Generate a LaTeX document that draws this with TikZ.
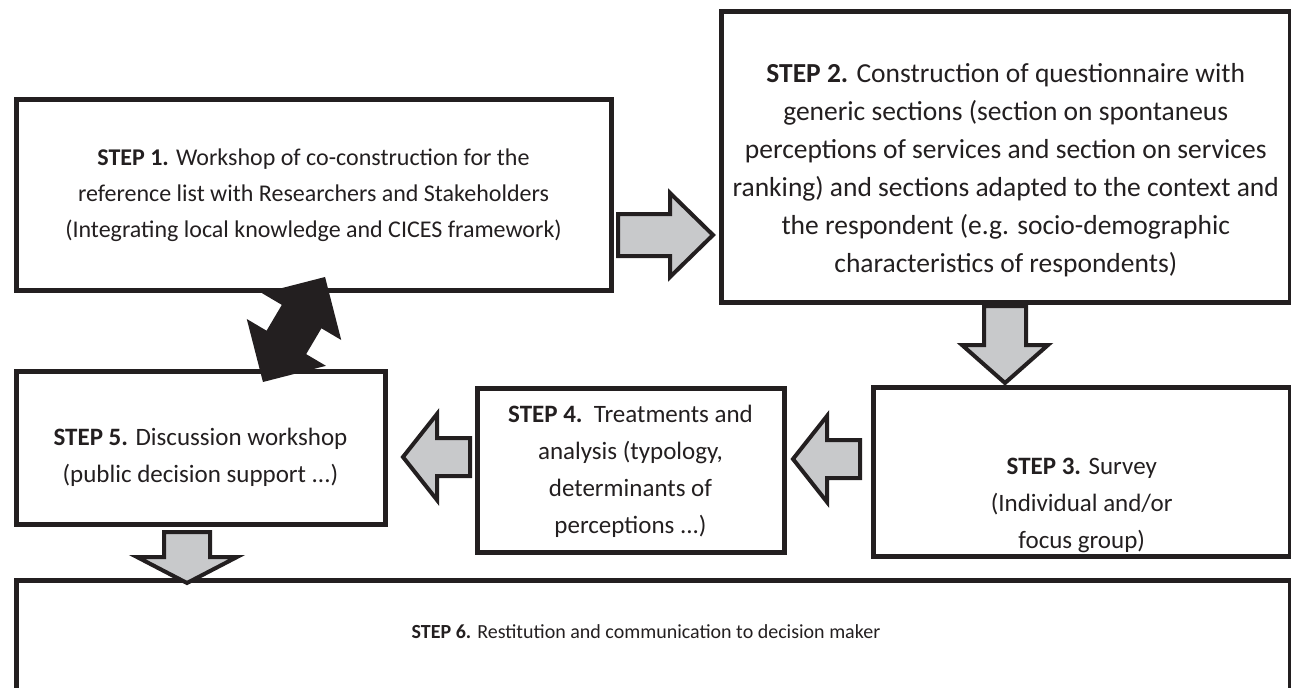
\documentclass[tikz,border=0pt]{standalone}
\usepackage{fontspec}
\setmainfont{Carlito}
\usepackage{tikz}
\usetikzlibrary{calc}
\usepackage{color}

\definecolor{inkline}{RGB}{35,31,32}
\definecolor{arrowgrey}{RGB}{200,201,203}

\tikzset{
  stepbox/.style={draw=inkline, line width=2.5pt, inner sep=0pt},
  steptext/.style={align=center, inner sep=0pt, font=\fontsize{12.5}{18.5}\selectfont, text=inkline},
  greyarrow/.style={draw=inkline, fill=arrowgrey, line width=2pt, line join=miter},
}

% tip, angle, length, shaft half, head half, head length
\newcommand{\flowarrow}[6]{%
  \begin{scope}[shift={#1}, rotate=#2]
    \draw[greyarrow] (0,0) -- (-#6,#5) -- (-#6,#4) -- (-#3,#4) -- (-#3,-#4)
      -- (-#6,-#4) -- (-#6,-#5) -- cycle;
  \end{scope}}

\begin{document}
\begin{tikzpicture}[x=0.5pt, y=0.5pt]
  \useasboundingbox (0,0) rectangle (1291,687);
  \clip (0,0) rectangle (1291,687);

  %% boxes
  \node[stepbox, minimum width=297.5pt, minimum height=95pt] (s1) at (313.5,492) {};
  \node[stepbox, minimum width=284.75pt, minimum height=145pt] (s2) at (1005.75,530) {};
  \node[stepbox, minimum width=208.75pt, minimum height=84.5pt] (s3) at (1081.75,215.5) {};
  \node[stepbox, minimum width=153.5pt, minimum height=82pt] (s4) at (630.5,217) {};
  \node[stepbox, minimum width=184.5pt, minimum height=76.5pt] (s5) at (200.5,239.5) {};
  \node[stepbox, minimum width=637.25pt, minimum height=70pt] (s6) at (653.25,37) {};

  %% texts
  \node[steptext, font=\fontsize{12}{18}\selectfont] (t1) at (s1.center) {\textbf{STEP 1.} Workshop of co-construction for the\\
    reference list with Researchers and Stakeholders\\
    (Integrating local knowledge and CICES framework)};
  \node[steptext, font=\fontsize{13.75}{19}\selectfont] (t2) at ($(s2.center)+(0,-13)$) {\textbf{STEP 2.} Construction of questionnaire with\\
    generic sections (section on spontaneus\\
    perceptions of services and section on services\\
    ranking) and sections adapted to the context and\\
    the respondent (e.g. socio-demographic\\
    characteristics of respondents)};
  \node[steptext] (t3) at ($(s3.center)+(0,-34)$) {\textbf{STEP 3.} Survey\\
    (Individual and/or\\
    focus group)};
  \node[steptext] (t4) at ($(s4.center)+(0,-1)$) {\textbf{STEP 4.}\ \ Treatments and\\
    analysis (typology,\\
    determinants of\\
    perceptions ...)};
  \node[steptext] (t5) at ($(s5.center)+(0,-10)$) {\textbf{STEP 5.} Discussion workshop\\
    (public decision support ...)};
  \node[steptext, font=\fontsize{10}{12}\selectfont] (t6) at (646,55) {\textbf{STEP 6.} Restitution and communication to decision maker};

  %% grey arrows
  \flowarrow{(713,452)}{0}{95}{21}{42}{43}
  \flowarrow{(1005,304)}{-90}{77}{21}{43}{38}
  \flowarrow{(793,228)}{180}{67}{19}{43}{34}
  \flowarrow{(403,230)}{180}{67}{19}{43}{34}
  \flowarrow{(187,104)}{-90}{51}{23}{50}{26}

  %% black double arrow between step 1 and step 5
  \begin{scope}[shift={(294,357.5)}, rotate=59.4]
    \fill[inkline] (61,0) -- (15,46) -- (15,23) -- (-15,23) -- (-15,46) -- (-61,0)
      -- (-15,-46) -- (-15,-23) -- (15,-23) -- (15,-46) -- cycle;
  \end{scope}
\end{tikzpicture}
\end{document}
